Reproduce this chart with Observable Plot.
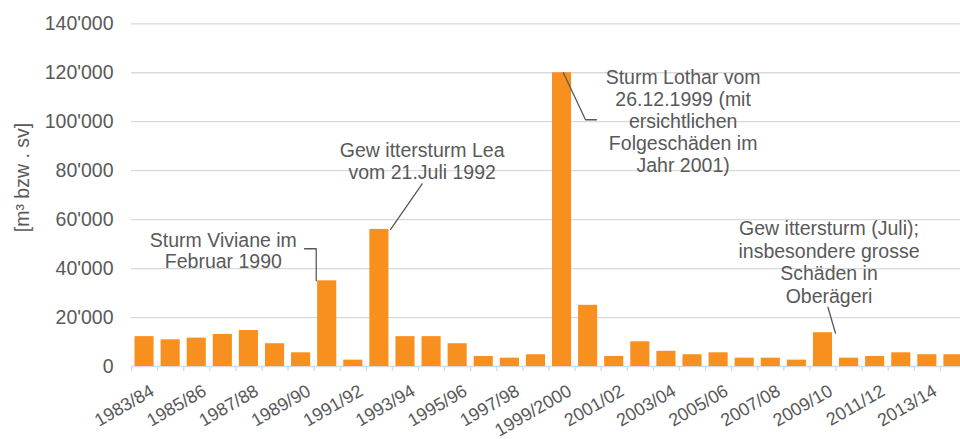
<!DOCTYPE html>
<html><head><meta charset="utf-8">
<script src="https://cdn.jsdelivr.net/npm/d3@7"></script>
<script src="https://cdn.jsdelivr.net/npm/@observablehq/plot@0.6"></script>
<style>html,body{margin:0;padding:0;background:#fff;overflow:hidden}</style>
</head><body><div id="chart"></div>
<script>
const seasons = ["1983/84","1984/85","1985/86","1986/87","1987/88","1988/89","1989/90","1990/91","1991/92","1992/93","1993/94","1994/95","1995/96","1996/97","1997/98","1998/99","1999/2000","2000/01","2001/02","2002/03","2003/04","2004/05","2005/06","2006/07","2007/08","2008/09","2009/10","2010/11","2011/12","2012/13","2013/14","2014/15"];
const volumes = [12200,10900,11600,13100,14700,9300,5600,35000,2600,56000,12200,12200,9300,4100,3400,4800,120000,25000,4100,10100,6200,4800,5600,3400,3400,2600,13800,3400,4100,5600,4800,4800];
const yTicks = [0,20000,40000,60000,80000,100000,120000,140000];
const xTickLabels = ["1983/84","1985/86","1987/88","1989/90","1991/92","1993/94","1995/96","1997/98","1999/2000","2001/02","2003/04","2005/06","2007/08","2009/10","2011/12","2013/14"];
const yTitle = "[m³ bzw . sv]";

// annotation texts, anchored in data space (category index, value)
const notes = [
  {text: "Sturm Viviane im\nFebruar 1990", i: 3.02, v: 54700, lh: 1.06},
  {text: "Gew ittersturm Lea\nvom 21.Juli 1992", i: 10.64, v: 92300, lh: 1.164},
  {text: "Sturm Lothar vom\n26.12.1999 (mit\nersichtlichen\nFolgeschäden im\nJahr 2001)", i: 20.64, v: 121800, lh: 1.132},
  {text: "Gew ittersturm (Juli);\ninsbesondere grosse\nSchäden in\nOberägeri", i: 26.23, v: 60200, lh: 1.154}
];
const connectors = [
  {id: "viviane", pts: [[6.13, 48100], [6.58, 48100], [6.58, 35000]]},
  {id: "lea", pts: [[10.64, 74600], [9.43, 56000]]},
  {id: "lothar", pts: [[17.32, 100800], [16.90, 100800], [16.05, 120000]]},
  {id: "oberaegeri", pts: [[26.19, 24200], [26.48, 13600]]}
];

const data = seasons.map((s, i) => ({i, season: s, v: volumes[i]}));
const connPts = connectors.flatMap(c => c.pts.map(([i, v]) => ({id: c.id, i, v})));
const fmt = d => d3.format(",")(d).replace(/,/g, "'");
const ink = "#595959";
const grid = "#d9d9d9";
const fs = 19.5;

const chart = Plot.plot({
  width: 960,
  height: 439,
  marginLeft: 131,
  marginRight: 0,
  marginTop: 23,
  marginBottom: 73,
  style: {fontFamily: "'Liberation Sans', Arial, sans-serif", fontSize: fs + "px", color: ink, background: "#fff"},
  x: {domain: [-0.5, seasons.length - 0.5], range: [131, 966], axis: null},
  y: {domain: [0, 140000], range: [366, 23.3]},
  marks: [
    Plot.ruleY(yTicks, {stroke: grid, strokeWidth: 1.3}),
    Plot.rectY(data, {x1: d => d.i - 0.5, x2: d => d.i + 0.5, y: "v", insetLeft: 3.5, insetRight: 3.5, fill: "#f7901e"}),
    Plot.ruleX(d3.range(seasons.length + 1).map(k => k - 0.5), {y1: 0, y2: 0, insetBottom: -5, stroke: grid, strokeWidth: 1.3}),
    Plot.axisY({ticks: yTicks, tickFormat: fmt, tickSize: 0, tickPadding: 18, fontSize: fs, fill: ink, label: null}),
    Plot.text(xTickLabels, {x: d => seasons.indexOf(d), y: d => 0, text: d => d, rotate: -30, textAnchor: "end", lineAnchor: "middle", dx: 8, dy: 23, fontSize: 18, fill: ink}),
    Plot.text([yTitle], {frameAnchor: "left", text: d => d, dx: -109, dy: -17.5, rotate: -90, textAnchor: "middle", fontSize: fs, fill: ink}),
    ...notes.map(n => Plot.text([n], {x: "i", y: "v", text: "text", lineAnchor: "top", textAnchor: "middle", lineHeight: n.lh, fontSize: fs, fill: ink})),
    Plot.line(connPts, {x: "i", y: "v", z: "id", stroke: ink, strokeWidth: 1.3})
  ]
});
document.getElementById("chart").appendChild(chart);
</script>
</body></html>
